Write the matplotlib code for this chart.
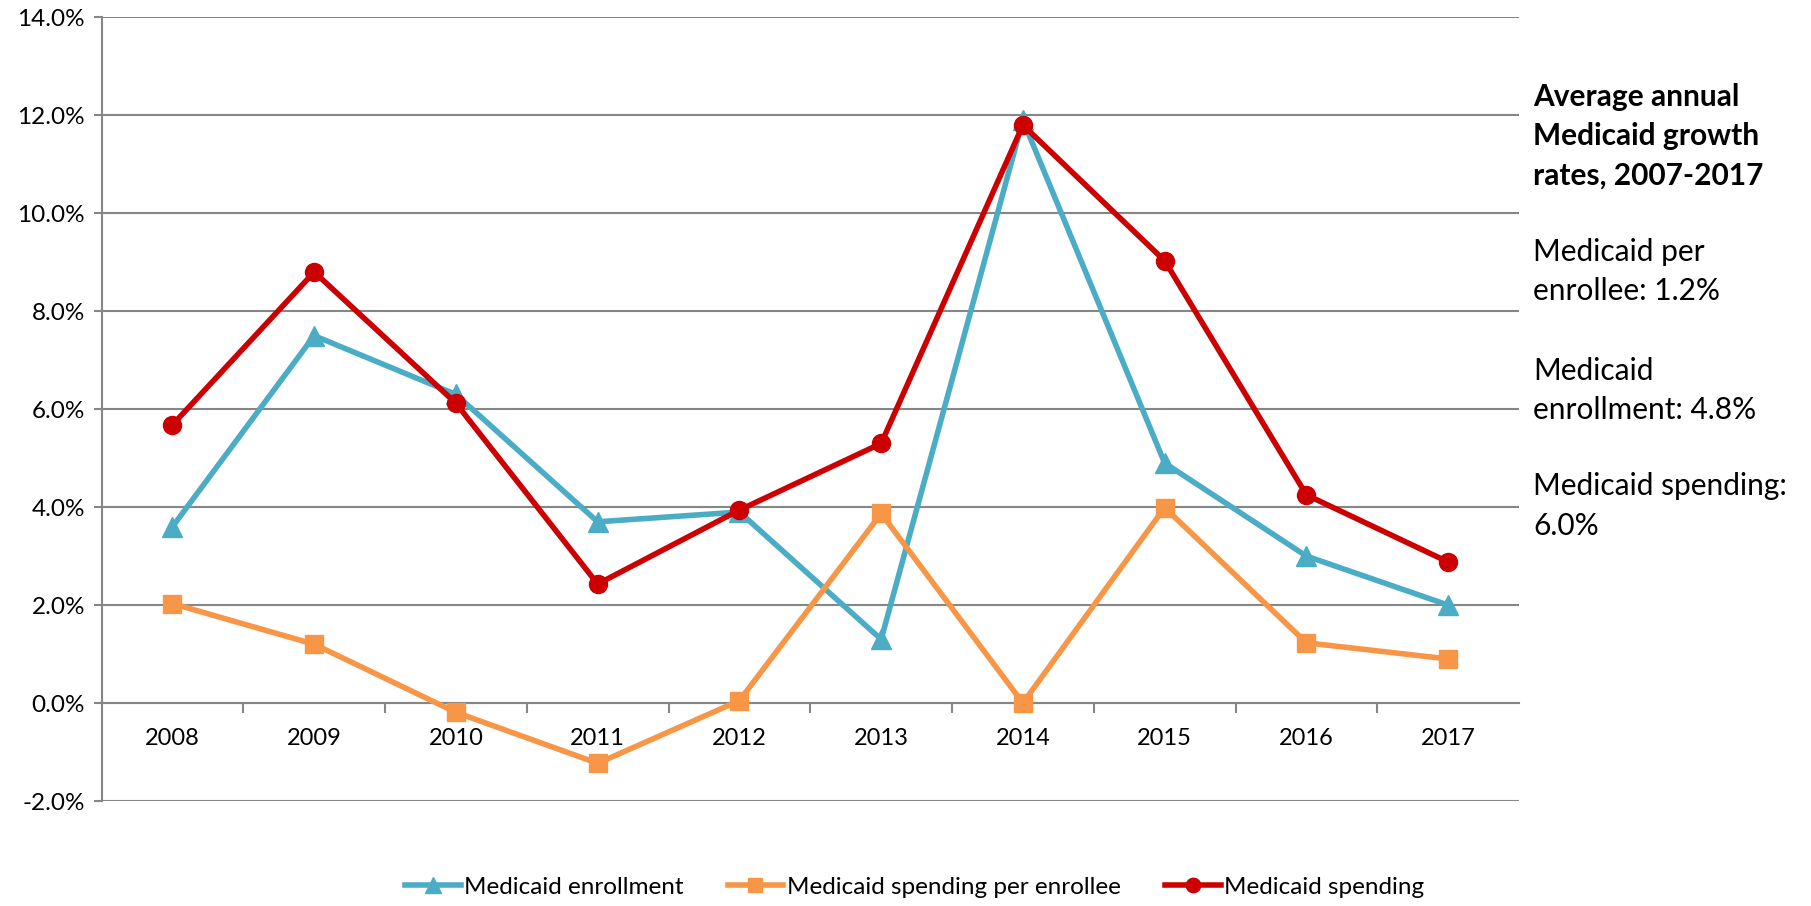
import matplotlib
matplotlib.use("Agg")
import matplotlib.pyplot as plt
from matplotlib.ticker import FuncFormatter, FixedLocator

plt.rcParams['font.family'] = ['Lato', 'DejaVu Sans']

years = ["2008", "2009", "2010", "2011", "2012", "2013", "2014", "2015", "2016", "2017"]
enrollment = [3.6, 7.5, 6.3, 3.7, 3.9, 1.3, 11.9, 4.9, 3.0, 2.0]
per_enrollee = [2.03, 1.2, -0.19, -1.23, 0.05, 3.87, 0.0, 3.99, 1.23, 0.9]
spending = [5.68, 8.8, 6.12, 2.43, 3.94, 5.3, 11.8, 9.03, 4.25, 2.88]

side_title = ["Average annual", "Medicaid growth", "rates, 2007-2017"]
side_lines = ["Medicaid per", "enrollee: 1.2%", "Medicaid", "enrollment: 4.8%",
              "Medicaid spending:", "6.0%"]

W, H = 1811, 906
fig = plt.figure(figsize=(W / 100, H / 100), dpi=100)
ax = fig.add_axes([101.6 / W, 1 - 801 / H, (1519 - 101.6) / W, (801 - 17.3) / H])

blue = "#4BACC6"
orange = "#F79646"
red = "#CC0000"
grid = "#868686"

x = list(range(len(years)))
ax.plot(x, enrollment, color=blue, lw=4.0, marker="^", ms=14, label="Medicaid enrollment", zorder=3)
ax.plot(x, per_enrollee, color=orange, lw=4.0, marker="s", ms=12.5, label="Medicaid spending per enrollee", zorder=3)
ax.plot(x, spending, color=red, lw=4.0, marker="o", ms=13, label="Medicaid spending", zorder=4)

ax.set_xlim(-0.5, len(years) - 0.5)
ax.set_ylim(-2, 14)
ax.set_yticks([-2, 0, 2, 4, 6, 8, 10, 12, 14])
ax.yaxis.set_major_formatter(FuncFormatter(lambda v, p: f"{v:.1f}%"))
ax.yaxis.grid(True, color=grid, lw=1.5)
ax.set_axisbelow(True)

for s in ["top", "right"]:
    ax.spines[s].set_visible(False)
ax.spines["left"].set_color(grid)
ax.spines["left"].set_linewidth(1.5)
ax.spines["bottom"].set_position(("data", 0))
ax.spines["bottom"].set_color(grid)
ax.spines["bottom"].set_linewidth(1.5)

ax.tick_params(axis="y", direction="out", length=6, width=1.5, color=grid, labelsize=17.5, pad=6)
ax.set_xticks(x)
ax.set_xticklabels(years)
ax.xaxis.set_minor_locator(FixedLocator([i + 0.5 for i in range(len(years) - 1)]))
ax.tick_params(axis="x", which="major", length=0, labelsize=17, pad=18)
ax.tick_params(axis="x", which="minor", direction="out", length=7, width=1.5, color=grid)

# side annotation
tx = 1533 / W
ys_title = [97, 136, 176]
for t, yy in zip(side_title, ys_title):
    fig.text(tx, 1 - yy / H, t, fontsize=21.5, fontweight="bold", va="center", ha="left")
ys_lines = [252, 291, 371, 410, 486, 526]
for t, yy in zip(side_lines, ys_lines):
    fig.text(tx, 1 - yy / H, t, fontsize=21.5, va="center", ha="left")

fig.legend(loc="center", bbox_to_anchor=(0.505, 1 - 887 / H), ncol=3, frameon=False,
           fontsize=17.5, handlelength=2.3, columnspacing=1.8, handletextpad=0.15, markerscale=0.8)

fig.savefig("out.png", dpi=100)
